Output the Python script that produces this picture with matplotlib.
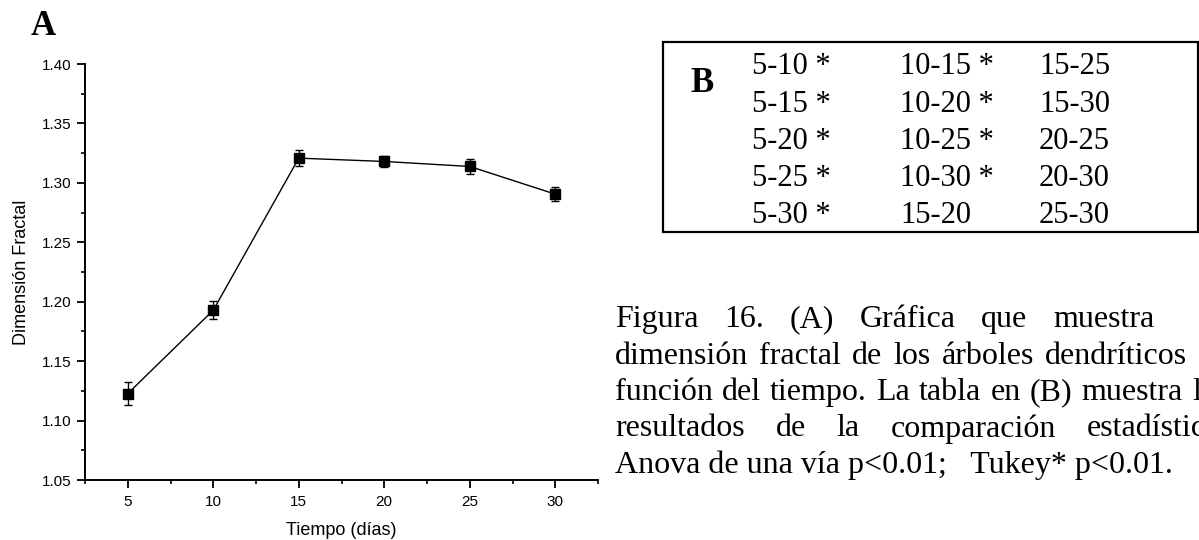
import matplotlib
matplotlib.use("Agg")
import matplotlib.pyplot as plt
from matplotlib.patches import Rectangle
from matplotlib.ticker import MultipleLocator, AutoMinorLocator, FormatStrFormatter

# Dimension fractal vs tiempo de cultivo
dias = [5, 10, 15, 20, 25, 30]
dim_fractal = [1.1227, 1.1928, 1.3208, 1.3180, 1.3138, 1.2905]
error_std = [0.0100, 0.0075, 0.0070, 0.0045, 0.0060, 0.0060]

# Comparaciones Tukey (B); True = diferencia significativa
comparaciones = ["5-10", "5-15", "5-20", "5-25", "5-30",
                 "10-15", "10-20", "10-25", "10-30", "15-20",
                 "15-25", "15-30", "20-25", "20-30", "25-30"]
significativa = [True, True, True, True, True,
                 True, True, True, True, False,
                 False, False, False, False, False]

# Pie de figura, palabra por palabra
pie_lineas = [
    ["Figura", "16.", "(A)", "Gráfica", "que", "muestra"],
    ["dimensión", "fractal", "de", "los", "árboles", "dendríticos"],
    ["función", "del", "tiempo.", "La", "tabla", "en", "(B)", "muestra", "los"],
    ["resultados", "de", "la", "comparación", "estadística"],
]
pie_final = "Anova de una vía p<0.01;   Tukey* p<0.01."

W, H = 1199, 540
SANS = ["Liberation Sans", "DejaVu Sans"]
SERIF = ["Liberation Serif", "DejaVu Serif"]


def fx(x):
    return x / W


def fy(y):
    return 1 - y / H


fig = plt.figure(figsize=(W / 100, H / 100), dpi=100)
fig.patch.set_facecolor("white")

# ---- panel A ----
ax = fig.add_axes([fx(85), fy(480), (598 - 85) / W, (480 - 64) / H])
ax.errorbar(dias, dim_fractal, yerr=error_std, fmt="s-", color="black",
            ms=6.5, lw=1.0, elinewidth=1.0, capsize=3.2, capthick=1.0)
ax.set_xlim(2.5, 32.5)
ax.set_ylim(1.05, 1.40)
ax.xaxis.set_major_locator(MultipleLocator(5))
ax.xaxis.set_minor_locator(AutoMinorLocator(2))
ax.yaxis.set_major_locator(MultipleLocator(0.05))
ax.yaxis.set_minor_locator(AutoMinorLocator(2))
ax.yaxis.set_major_formatter(FormatStrFormatter("%.2f"))
for s in ("top", "right"):
    ax.spines[s].set_visible(False)
for s in ("left", "bottom"):
    ax.spines[s].set_linewidth(1.4)
ax.tick_params(which="major", direction="out", length=6, width=1.3)
ax.tick_params(axis="x", which="major", pad=5)
ax.tick_params(axis="y", which="major", pad=3.5)
ax.tick_params(which="minor", direction="out", length=3, width=1.2)
for lbl in ax.get_xticklabels() + ax.get_yticklabels():
    lbl.set_family(SANS)
    lbl.set_fontsize(11)
ax.set_xlabel("Tiempo (días)", family=SANS, fontsize=13, labelpad=9)
ax.set_ylabel("Dimensión Fractal", family=SANS, fontsize=13, labelpad=9)

fig.text(fx(31), fy(35), "A", family=SERIF, fontsize=25, fontweight="bold",
         va="baseline", ha="left")

# ---- panel B: tabla de comparaciones ----
fig.add_artist(Rectangle((fx(663), fy(232)), (1198 - 663) / W, (232 - 42) / H,
                         transform=fig.transFigure, fill=False,
                         edgecolor="black", lw=1.6))
fig.text(fx(690), fy(92), "B", family=SERIF, fontsize=25, fontweight="bold",
         va="baseline", ha="left")
col_x = [752, 900, 1039]
for i, (par, sig) in enumerate(zip(comparaciones, significativa)):
    col, fila = divmod(i, 5)
    txt = par + " *" if sig else par
    fig.text(fx(col_x[col]), fy(74.5 + 37.1 * fila), txt, family=SERIF,
             fontsize=22, va="baseline", ha="left")

# ---- pie de figura justificado ----
renderer = fig.canvas.get_renderer()
base_y = [327, 363.5, 400, 436.5]
ultimo_x = [1053, 1045, 1192, 1087]
x0 = 615
for palabras, y, xl in zip(pie_lineas, base_y, ultimo_x):
    textos = [fig.text(0, 0, p, family=SERIF, fontsize=23, va="baseline")
              for p in palabras]
    anchos = [t.get_window_extent(renderer).width for t in textos]
    hueco = (xl - x0 - sum(anchos[:-1])) / (len(palabras) - 1)
    x = x0
    for t, a in zip(textos, anchos):
        t.set_position((fx(x), fy(y)))
        x += a + hueco
fig.text(fx(x0), fy(473), pie_final, family=SERIF, fontsize=23, va="baseline")

fig.savefig("out.png", dpi=100, facecolor="white")
